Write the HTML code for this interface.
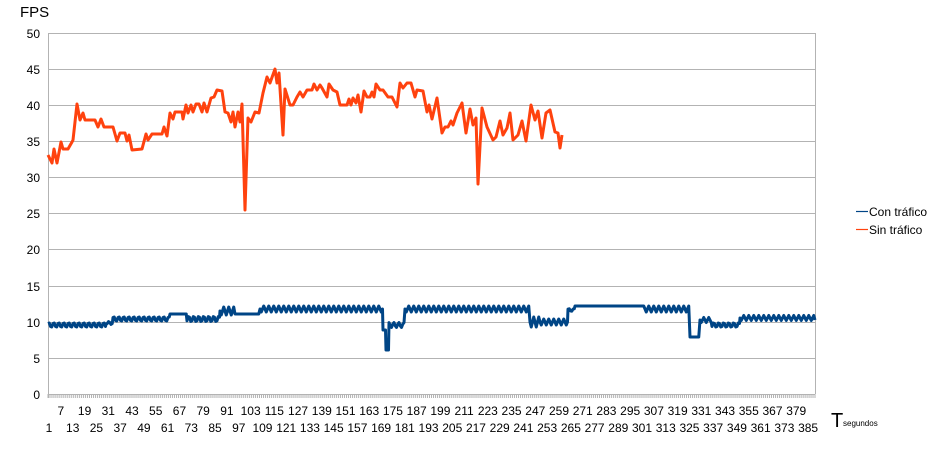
<!DOCTYPE html>
<html><head><meta charset="utf-8"><style>
body{margin:0;background:#fff;width:934px;height:456px;overflow:hidden;font-family:"Liberation Sans",Arial,sans-serif}
</style></head><body>
<svg id="s" width="934" height="456" xmlns="http://www.w3.org/2000/svg" font-family="Liberation Sans, Arial, sans-serif">
<g stroke="#b3b3b3" stroke-width="1">
<line x1="48" y1="33.5" x2="815" y2="33.5"/><line x1="48" y1="69.5" x2="815" y2="69.5"/>
<line x1="48" y1="105.5" x2="815" y2="105.5"/><line x1="48" y1="141.5" x2="815" y2="141.5"/>
<line x1="48" y1="177.5" x2="815" y2="177.5"/><line x1="48" y1="213.5" x2="815" y2="213.5"/>
<line x1="48" y1="249.5" x2="815" y2="249.5"/><line x1="48" y1="286.5" x2="815" y2="286.5"/>
<line x1="48" y1="322.5" x2="815" y2="322.5"/><line x1="48" y1="358.5" x2="815" y2="358.5"/>
<line x1="48" y1="394.5" x2="815" y2="394.5"/>
<line x1="48.5" y1="33" x2="48.5" y2="398"/><line x1="815.5" y1="33" x2="815.5" y2="394"/>
</g>
<g id="ticks" stroke="#b3b3b3" stroke-width="1"></g>
<g font-size="12" fill="#000" text-anchor="end">
<text x="40" y="38">50</text><text x="40" y="74">45</text><text x="40" y="110">40</text>
<text x="40" y="146">35</text><text x="40" y="182">30</text><text x="40" y="218">25</text>
<text x="40" y="254">20</text><text x="40" y="291">15</text><text x="40" y="327">10</text>
<text x="40" y="363">5</text><text x="40" y="399">0</text>
</g>
<g id="xl" font-size="12" fill="#000" text-anchor="middle"></g>
<text x="20" y="17" font-size="15" fill="#000">FPS</text>
<text x="831" y="427" font-size="20" fill="#000">T</text>
<text x="843" y="426" font-size="8" fill="#000">segundos</text>
<line x1="856" y1="211.5" x2="868" y2="211.5" stroke="#004586" stroke-width="1.2"/>
<line x1="856" y1="229.5" x2="868" y2="229.5" stroke="#ff420e" stroke-width="1.2"/>
<text x="869" y="216" font-size="12" fill="#000">Con tráfico</text>
<text x="869" y="234" font-size="12" fill="#000">Sin tráfico</text>
<polyline fill="none" stroke="#ff420e" stroke-width="3" stroke-linejoin="round" points="48,155 52,163 54,149 57,163 61,142 63,149 68,149 72,142 73,140 77,104 80,120 83,113 85,120 95,120 98,127 101,119 104,127 113,127 117,141 120,133 125,133 127,141 129,135 132,150 142,149 146,134 148,140 152,134 162,134 164,127 167,136 170,113 173,119 175,112 182,112 183,119 186,105 188,113 191,105 193,112 196,104 199,104 202,112 204,103 207,112 211,98 214,97 217,90 222,91 225,112 228,113 231,122 233,112 235,127 238,112 240,122 242,104 245,210 248,118 251,122 255,112 259,113 263,93 267,77 270,83 275,69 277,83 279,73 283,135 285,89 290,105 293,105 297,97 300,92 303,97 307,90 312,90 314,84 317,90 320,85 322,88 327,97 329,84 333,90 337,92 340,105 347,105 349,99 351,105 353,98 356,103 358,95 361,112 364,91 367,97 370,97 372,92 374,97 376,84 380,90 383,90 388,97 392,97 397,107 400,83 403,88 407,83 411,83 415,97 417,90 423,91 427,112 429,105 432,119 437,98 442,133 445,127 448,127 451,121 453,125 457,113 462,103 466,133 470,109 473,125 476,118 478,184 482,108 487,127 493,140 496,137 500,121 503,135 507,128 510,113 513,140 518,135 522,121 526,141 531,105 535,120 538,111 542,138 546,113 550,110 555,132 558,133 560,148 562,135"/>
<polyline id="blue" fill="none" stroke="#004586" stroke-width="3" stroke-linejoin="round"/>
</svg>
<script>
var ns="http://www.w3.org/2000/svg",s=document.getElementById('s');
var tg=document.getElementById('ticks'),xl=document.getElementById('xl');
var st=767/388;
for(var i=0;i<=388;i++){var x=48+i*st;var l=document.createElementNS(ns,'line');l.setAttribute('x1',x);l.setAttribute('x2',x);l.setAttribute('y1',394);l.setAttribute('y2',398);tg.appendChild(l);}
for(var c=1;c<=385;c+=6){var t=document.createElementNS(ns,'text');var x=48+(c-0.5)*st;var odd=((c-1)/6)%2==1;t.setAttribute('x',x);t.setAttribute('y',odd?415:432);t.textContent=c;xl.appendChild(t);}
var seg=[[48,106,325,2.5],[106,113,323,1.5],[113,170,319,2.5],[170,187,314,0],[187,220,319,3],[220,235,311,4],[235,260,314,0],[260,383,309,3],[383,386,330,0],[386,389,350,0],[389,405,325,2.5],[405,430,309,3],[430,530,309,3],[530,540,322,5],[540,568,322,3],[568,575,310,1.5],[575,645,306,0],[645,690,309,3],[690,700,337,0],[700,712,320,2.5],[712,740,325,2.5],[740,815,318,2.5]];
var pts=[];
seg.forEach(function(g){for(var x=g[0];x<g[1];x+=1.25){var y=g[2]+g[3]*Math.sin(x*2*Math.PI/5);pts.push(x+','+y.toFixed(1));}});
pts.push('815,320');
document.getElementById('blue').setAttribute('points',pts.join(' '));
</script>
</body></html>
